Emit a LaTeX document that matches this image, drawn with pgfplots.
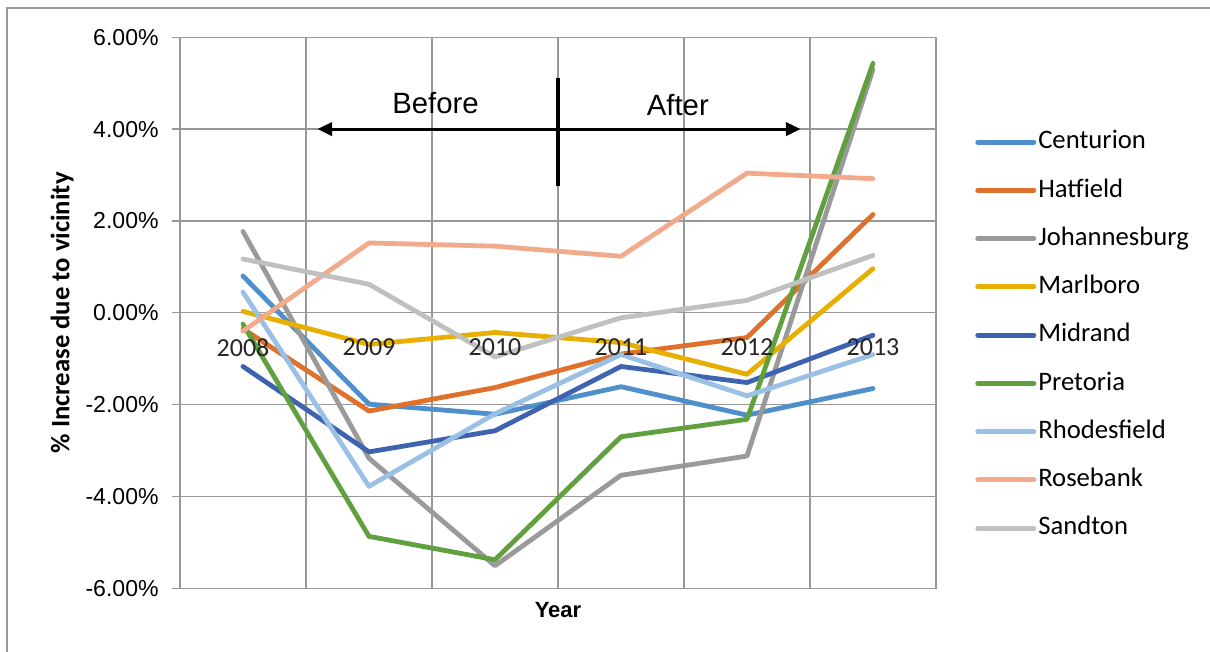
\documentclass[border=0pt]{standalone}
\usepackage{pgfplots}
\pgfplotsset{compat=1.18}
\usepackage{fontspec}
\setmainfont{Liberation Sans}
\newfontfamily\calibri{Carlito}
\usetikzlibrary{arrows.meta}
\definecolor{cCent}{HTML}{4F8FCB}
\definecolor{cHat}{HTML}{E0712C}
\definecolor{cJoh}{HTML}{9A9A9A}
\definecolor{cMarl}{HTML}{E8AE00}
\definecolor{cMid}{HTML}{3E64B0}
\definecolor{cPret}{HTML}{61A03F}
\definecolor{cRhod}{HTML}{9BC0E6}
\definecolor{cRose}{HTML}{F2AA8C}
\definecolor{cSand}{HTML}{C0C0C0}
\definecolor{gridgray}{HTML}{989898}
\begin{document}
\begin{tikzpicture}
\path[use as bounding box] (0,0) rectangle (907.5pt,489pt);
\draw[color=gridgray, line width=1pt] (5.25pt,0pt) -- (5.25pt,483pt) -- (907.5pt,483pt);
\begin{axis}[
  at={(135pt,47.8pt)}, anchor=south west,
  scale only axis, width=567pt, height=413.25pt,
  xmin=-0.5, xmax=5.5, ymin=-6, ymax=6,
  axis line style={gridgray, line width=1pt},
  xtick={0,1,2,3,4,5},
  xticklabels={},
  xtick style={draw=none},
  minor xtick={0.5,1.5,2.5,3.5,4.5},
  minor tick length=0pt,
  xminorgrids=true,
  ytick={-6,-4,-2,0,2,4,6},
  ymajorgrids=true,
  grid style={gridgray, line width=1pt},
  minor grid style={gridgray, line width=1pt},
  ytick pos=left,
  tick align=outside,
  major tick length=6pt,
  ytick style={gridgray, line width=1pt},
  yticklabel={\pgfmathprintnumber[fixed,fixed zerofill,precision=2,assume math mode=true]{\tick}\%},
  yticklabel style={font=\fontsize{17.3}{19}\selectfont, xshift=-6.5pt},
  ylabel={\% Increase due to vicinity},
  ylabel style={font=\calibri\bfseries\fontsize{20}{22}\selectfont, at={(axis description cs:-0.156,0.5)}, anchor=center},
  xlabel={Year},
  xlabel style={font=\bfseries\fontsize{16.5}{18}\selectfont, at={(axis description cs:0.5,-0.040)}, anchor=center},
  every axis plot/.append style={line width=3.6pt, line join=round, line cap=round},
  legend image code/.code={\draw[#1, line width=3.75pt, line cap=round] (0pt,0pt) -- (42pt,0pt);},
  legend style={at={(axis description cs:1.0516,0.832)}, anchor=north west, draw=none, fill=none,
    font=\calibri\fontsize{20}{22}\selectfont, row sep=18.2pt, column sep=1.5pt, inner sep=0pt,
    nodes={inner sep=0pt, text height=14pt, text depth=4pt}},
  legend cell align=left,
]
\addplot[cCent] coordinates {(0,0.80) (1,-1.99) (2,-2.21) (3,-1.61) (4,-2.23) (5,-1.65)};
\addlegendentry{Centurion}
\addplot[cHat] coordinates {(0,-0.35) (1,-2.14) (2,-1.63) (3,-0.90) (4,-0.54) (5,2.14)};
\addlegendentry{Hatfield}
\addplot[cJoh] coordinates {(0,1.77) (1,-3.17) (2,-5.51) (3,-3.54) (4,-3.12) (5,5.30)};
\addlegendentry{Johannesburg}
\addplot[cMarl] coordinates {(0,0.03) (1,-0.69) (2,-0.43) (3,-0.65) (4,-1.34) (5,0.96)};
\addlegendentry{Marlboro}
\addplot[cMid] coordinates {(0,-1.17) (1,-3.03) (2,-2.57) (3,-1.17) (4,-1.52) (5,-0.49)};
\addlegendentry{Midrand}
\addplot[cPret] coordinates {(0,-0.25) (1,-4.87) (2,-5.38) (3,-2.70) (4,-2.32) (5,5.43)};
\addlegendentry{Pretoria}
\addplot[cRhod] coordinates {(0,0.45) (1,-3.78) (2,-2.20) (3,-0.91) (4,-1.81) (5,-0.91)};
\addlegendentry{Rhodesfield}
\addplot[cRose] coordinates {(0,-0.40) (1,1.52) (2,1.45) (3,1.23) (4,3.04) (5,2.92)};
\addlegendentry{Rosebank}
\addplot[cSand] coordinates {(0,1.17) (1,0.62) (2,-0.96) (3,-0.11) (4,0.27) (5,1.25)};
\addlegendentry{Sandton}
\draw[black, line width=2.25pt, {Triangle[length=11pt,width=10pt]}-{Triangle[length=11pt,width=10pt]}] (axis cs:0.591,4) -- (axis cs:4.425,4);
\draw[black, line width=3pt] (axis cs:2.5,5.11) -- (axis cs:2.5,2.75);
\node[font=\fontsize{22}{24}\selectfont] at (axis cs:1.528,4.57) {Before};
\node[font=\fontsize{22}{24}\selectfont] at (axis cs:3.451,4.53) {After};
\foreach \i/\yr in {0/2008,1/2009,2/2010,3/2011,4/2012,5/2013}{
  \edef\tmp{\noexpand\node[font=\noexpand\calibri\noexpand\fontsize{19.5}{21}\noexpand\selectfont, text=black!85, anchor=center, inner sep=0pt] at (axis cs:\i,-0.754) {\yr};}\tmp
}
\end{axis}
\end{tikzpicture}
\end{document}
